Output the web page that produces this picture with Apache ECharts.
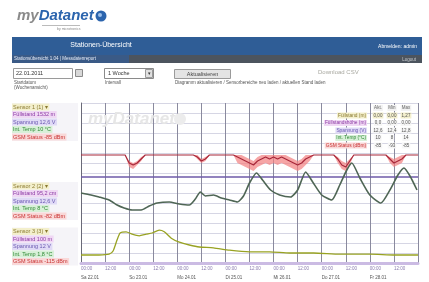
<!DOCTYPE html>
<html><head><meta charset="utf-8">
<script src="https://cdn.jsdelivr.net/npm/echarts@6/dist/echarts.min.js"></script>
<style>html,body{margin:0;padding:0;background:#fff;overflow:hidden}#c{width:429px;height:282px}</style>
</head><body><div id="c"></div>
<script>
// ---------- DATA ----------
const weekDates = ['Sa 22.01', 'So 23.01', 'Mo 24.01', 'Di 25.01', 'Mi 26.01', 'Do 27.01', 'Fr 28.01'];

// GSM status (dBm), sensor 1
const gsmHours = [0,22,24,26,28,30,32, 56,58,60,62,64, 76,78,80,82,84,86,88,90,92,94,96,98,100,102,104,106,108,110,112,114,116, 126,128,130,132,134,136, 152,154,156,158,160,162, 168];
const gsmDbm   = [-85,-85,-89,-90,-89,-87,-85, -85,-86,-88,-87,-85, -85,-86,-87,-88,-89,-90,-88,-87,-86,-87,-86,-87,-86,-87,-88,-89,-90,-89,-87,-86,-85, -85,-87,-90,-91,-88,-85, -85,-87,-89,-88,-87,-85, -85];
const gsmMin   = [-85,-85,-91,-92,-90,-88,-85, -85,-87,-89,-88,-85, -85,-89,-90,-91,-92,-93,-91,-90,-89,-90,-89,-90,-89,-90,-91,-92,-93,-92,-90,-88,-85, -85,-89,-92,-93,-90,-85, -85,-89,-91,-90,-89,-85, -85];
const gsmMax   = [-85,-85,-88,-89,-88,-86,-85, -85,-85,-87,-86,-85, -85,-85,-85,-86,-87,-88,-86,-85,-85,-85,-85,-85,-85,-85,-86,-87,-88,-87,-85,-85,-85, -85,-86,-88,-89,-87,-85, -85,-86,-87,-86,-85,-85, -85];

// Supply voltage (V)
const voltHours = [0, 168];
const voltV     = [12.6, 12.6];

// Level (cm), sensor 2
const levelHours = [0,5,9,14,18,21.5,25.5,30,34,38,44,49,54,57,59.5,62,66,70,74,78,81,84,87.5,90.5,94.5,99,104.5,108,112,115.5,120,125,129,132.5,135,139,144,149.5,154,158,161,164,167.5];
const levelCm    = [55,54,53,51.5,49,47.5,46.5,46.5,48.5,50,50.5,49.5,49,52,55.5,53.5,54,52.5,51.5,50.5,53.5,60,65,61.5,56.5,54,53,56.5,65.5,60.5,54,51.5,59,66.5,70,62.5,54,50,56.5,64,67.5,63.5,56.5];

// Temperature (°C), sensor 3
const tempHours = [0,9,14,16,18,19.5,22.5,25.5,29,32.5,35.5,39,41.5,45,49,54,59,66,74,84,94,104,116,129,144,156.5,168];
const tempC     = [2.0,2.0,2.2,3.0,5.8,7.5,7.8,7.2,6.8,7.2,7.5,8.2,7.8,6.2,5.2,4.5,4.0,3.8,3.2,2.8,2.8,2.5,2.5,2.2,2.2,2.0,2.0];

// Side labels
const sensorLabels = [
  ['Sensor 1 (1) \u25BE', 'Füllstand 1532 m', 'Spannung 12,6 V', 'Int. Temp 10 °C', 'GSM Status -85 dBm'],
  ['Sensor 2 (2) \u25BE', 'Füllstand 95,2 cm', 'Spannung 12,6 V', 'Int. Temp 8 °C', 'GSM Status -82 dBm'],
  ['Sensor 3 (3) \u25BE', 'Füllstand 100 m', 'Spannung 12 V', 'Int. Temp 1,8 °C', 'GSM Status -115 dBm']
];
const tableHead = ['Akt.', 'Min', 'Max'];
const tableRows = ['Füllstand (m)', 'Füllstandshöhe (m)', 'Spannung (V)', 'Int. Temp (°C)', 'GSM Status (dBm)'];
const tableVals = [['0,00','0,00','1,27'],['0,0','0,00','0,00'],['12,6','12,4','12,8'],['10','8','14'],['-85','-93','-85']];

// ---------- STYLE ----------
const FONT = 'Liberation Sans, Arial, sans-serif';
const rowFill = ['#f3efcc', '#f0d8f4', '#e0daf6', '#d8f0d8', '#f9d8d8'];
const rowText = ['#8a7a30', '#8c3aa4', '#6a58b0', '#2f8a35', '#c83232'];

function T(x, y, text, size, fill, extra) {
  return { type: 'text', x: x, y: y, z: 100,
    style: Object.assign({ text: text, fontSize: size, fill: fill, fontFamily: FONT,
      align: 'left', verticalAlign: 'middle', textAlign: 'left', textVerticalAlign: 'middle' }, extra || {}) };
}
function R(x, y, w, h, fill, stroke, z) {
  return { type: 'rect', z: z || 90, shape: { x: x, y: y, width: w, height: h },
    style: { fill: fill, stroke: stroke || null, lineWidth: stroke ? 1 : 0 } };
}

const g = [];
// logo
g.push(T(17, 16, '{a|my}{b|Datanet}', 15, '#888', { fontWeight: 'bold', fontStyle: 'italic',
  rich: { a: { fill: '#8a8a8a', fontSize: 15, fontWeight: 'bold', fontStyle: 'italic', fontFamily: FONT },
          b: { fill: '#2b64ad', fontSize: 15, fontWeight: 'bold', fontStyle: 'italic', fontFamily: FONT } } }));
g.push({ type: 'circle', z: 100, shape: { cx: 101, cy: 16, r: 5.5 }, style: { fill: '#2b64ad' } });
g.push({ type: 'circle', z: 101, shape: { cx: 100, cy: 15, r: 2 }, style: { fill: '#9cc0ea' } });
g.push({ type: 'line', z: 100, shape: { x1: 42, y1: 25.5, x2: 80, y2: 25.5 }, style: { stroke: '#bbb', lineWidth: 1 } });
g.push(T(57, 29.5, 'by microtronics', 3.5, '#888'));
// blue header
g.push(R(12, 37, 410, 18, '#2f5d96'));
g.push(T(101, 45.5, 'Stationen-Übersicht', 7, '#ffffff', { align: 'center', textAlign: 'center' }));
g.push(T(417, 47, 'Abmelden: admin', 5, '#ffffff', { align: 'right', textAlign: 'right' }));
// nav bar
g.push(R(12, 55, 410, 8, '#4c545e'));
g.push(R(12, 55, 117, 8, '#3a5a86', null, 91));
g.push(T(14, 59, 'Stationsübersicht 1.04 | Messdatenreport', 4.5, '#e8eef8', { textDecoration: 'underline' }));
g.push(T(416, 59.5, 'Logout', 4.5, '#c8ccd0', { align: 'right', textAlign: 'right' }));
// controls
g.push(R(13.5, 68.5, 59, 10, '#fff', '#9a9a9a'));
g.push(T(16, 73.5, '22.01.2011', 5.5, '#333'));
g.push(R(75.5, 69.5, 7, 7, '#d8d8d8', '#8a8a8a'));
g.push(R(104.5, 68.5, 49, 10, '#fff', '#8a8a8a'));
g.push(T(108, 73.5, '1 Woche', 5.5, '#333'));
g.push(R(145.5, 69.5, 7, 8, '#e0e0e0', '#9a9a9a'));
g.push(T(149, 73.5, '\u25BE', 5, '#333', { align: 'center', textAlign: 'center' }));
g.push(R(174.5, 69.5, 56, 9, '#e4e4e4', '#9a9a9a'));
g.push(T(202.5, 74, 'Aktualisieren', 5.5, '#444', { align: 'center', textAlign: 'center' }));
g.push(T(318, 72.5, 'Download CSV', 6, '#a8a8a0'));
g.push(T(14, 83, 'Startdatum', 4.5, '#555'));
g.push(T(14, 88, '(Wochenansicht)', 4.5, '#555'));
g.push(T(105, 83, 'Intervall', 4.5, '#555'));
g.push(T(175, 83, 'Diagramm aktualisieren / Sensorbereiche neu laden / aktuellen Stand laden', 4.5, '#555'));
// watermark
g.push({ type: 'text', x: 88, y: 119, z: 1, style: { text: 'myDatanet', fontSize: 17, fontWeight: 'bold', fontStyle: 'italic',
  fill: '#e6e6e6', fontFamily: FONT, verticalAlign: 'middle', textVerticalAlign: 'middle' } });
g.push({ type: 'circle', z: 1, shape: { cx: 180, cy: 119, r: 6 }, style: { fill: '#ececec' } });
// side label blocks
const blockStart = [107, 186, 231.5];
sensorLabels.forEach(function (rows, b) {
  g.push(R(12, blockStart[b] - 4, 66, 38, '#f5f4f8', null, 80));
  rows.forEach(function (txt, i) {
    g.push(T(12, blockStart[b] + i * 7.5, txt, 5.5, rowText[i],
      { backgroundColor: rowFill[i], padding: [0.5, 1.5, 0.5, 1] }));
  });
});
// value table
const colX = [378, 392, 406];
tableHead.forEach(function (h, j) {
  g.push(T(colX[j], 108, h, 4.5, '#666', { align: 'center', textAlign: 'center', backgroundColor: '#f2f2f2', padding: [0.5, 1] }));
});
tableRows.forEach(function (r, i) {
  const y = 115.5 + i * 7.5;
  g.push(T(367, y, r, 4.8, rowText[i], { align: 'right', textAlign: 'right', backgroundColor: rowFill[i], padding: [0.5, 1] }));
  tableVals[i].forEach(function (v, j) {
    g.push(T(colX[j], y, v, 4.5, '#555', { align: 'center', textAlign: 'center', backgroundColor: i === 0 ? rowFill[0] : '#f6f6f6', padding: [0.5, 1] }));
  });
});

function pairs(xs, ys) { return xs.map(function (x, i) { return [x, ys[i]]; }); }
const bandData = gsmHours.map(function (h, i) { return [h, gsmMin[i], gsmMax[i]]; });

const chart = echarts.init(document.getElementById('c'), null, { renderer: 'canvas' });
chart.setOption({
  animation: false,
  backgroundColor: '#ffffff',
  grid: { left: 81, right: 11, top: 103, bottom: 19, containLabel: false },
  xAxis: {
    type: 'value', min: 0, max: 168, interval: 12,
    axisLine: { show: true, lineStyle: { color: '#cbbbe3', width: 3 } },
    axisTick: { show: false },
    splitLine: { show: true, lineStyle: { color: '#8a8a9e', width: 1 } },
    axisLabel: {
      showMaxLabel: false, align: 'left', margin: 1, fontSize: 4.5, fontFamily: FONT,
      formatter: function (v) {
        if (v % 24 === 0) return '{t|00:00}\n{d|' + weekDates[v / 24] + '}';
        return '{t|12:00}';
      },
      rich: {
        t: { fontSize: 4.5, color: '#8a7cae', fontFamily: FONT, lineHeight: 9 },
        d: { fontSize: 4.5, color: '#555', fontFamily: FONT, lineHeight: 9 }
      }
    }
  },
  yAxis: [
    { type: 'value', min: 0, max: 16, interval: 1, axisLabel: { show: false }, axisTick: { show: false },
      axisLine: { show: true, lineStyle: { color: '#6a6a78' } },
      splitLine: { show: true, lineStyle: { color: '#d6d6e4' } } },
    { type: 'value', min: -139, max: -59, show: false, splitLine: { show: false } },
    { type: 'value', min: 4, max: 20, show: false, splitLine: { show: false } },
    { type: 'value', min: 20, max: 100, show: false, splitLine: { show: false } },
    { type: 'value', min: 0, max: 40, show: false, splitLine: { show: false } }
  ],
  series: [
    { name: 'GSM Bereich', type: 'custom', yAxisIndex: 1, data: bandData, silent: true,
      encode: { x: 0, y: [1, 2] },
      renderItem: function (params, api) {
        if (params.dataIndex !== 0) return null;
        const pts = [];
        for (let i = 0; i < bandData.length; i++) pts.push(api.coord([bandData[i][0], bandData[i][2]]));
        for (let i = bandData.length - 1; i >= 0; i--) pts.push(api.coord([bandData[i][0], bandData[i][1]]));
        return { type: 'polygon', shape: { points: pts, smooth: 0 }, style: { fill: '#f27f7f', opacity: 0.7 } };
      } },
    { name: 'GSM Status', type: 'line', yAxisIndex: 1, data: pairs(gsmHours, gsmDbm), symbol: 'none',
      lineStyle: { color: '#a8283a', width: 1.2 } },
    { name: 'Spannung', type: 'line', yAxisIndex: 2, data: pairs(voltHours, voltV), symbol: 'none',
      lineStyle: { color: '#6e5aa8', width: 1.5 } },
    { name: 'Füllstand', type: 'line', yAxisIndex: 3, data: pairs(levelHours, levelCm), symbol: 'none', smooth: 0.2,
      lineStyle: { color: '#4f6655', width: 1.6 } },
    { name: 'Int. Temp', type: 'line', yAxisIndex: 4, data: pairs(tempHours, tempC), symbol: 'none', smooth: 0.2,
      lineStyle: { color: '#98a222', width: 1.3 } }
  ],
  graphic: { elements: g }
});
</script></body></html>
